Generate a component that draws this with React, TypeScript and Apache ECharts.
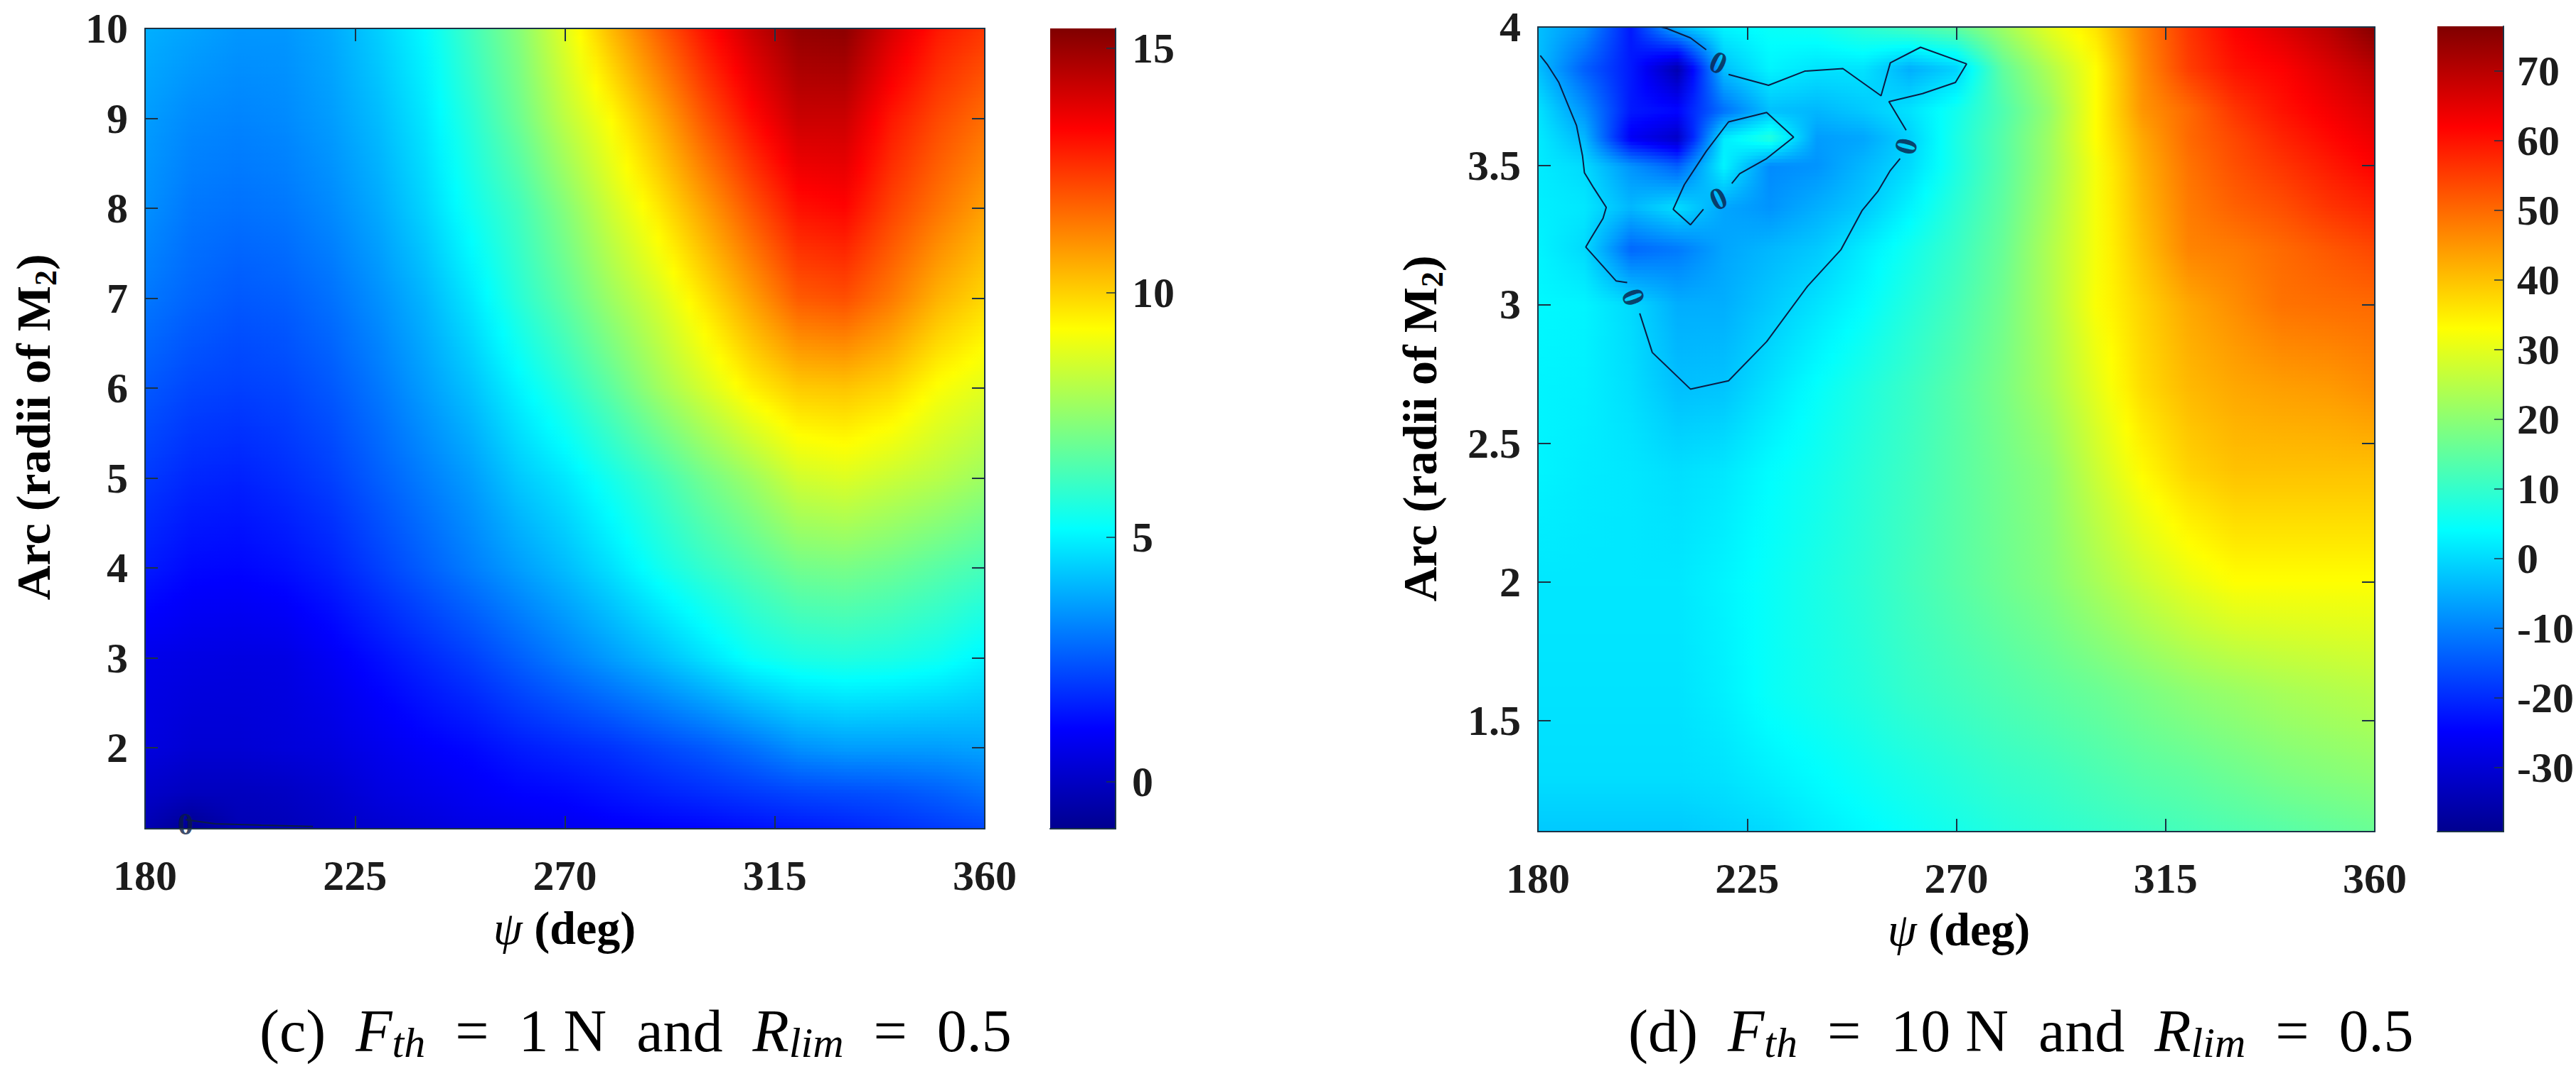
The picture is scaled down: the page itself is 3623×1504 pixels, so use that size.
import React, { useEffect, useRef } from "react";
import * as echarts from "echarts";

const FONT = "'Liberation Serif', 'Times New Roman', serif";
const LINE = "#1b3346";

// shared column positions (psi, deg)
const psi = [180, 190, 200, 210, 220, 230, 240, 250, 260, 270, 280, 290, 300, 310, 320, 330, 340, 350, 360];

// panel (c)
const arcC = [1.1, 1.5, 2, 3, 4, 5, 6, 7, 8, 9, 10];
const heatC = [
  [-0.3, -0.96, -0.3, -0.2, 0, 0.2, 0.4, 0.6, 0.7, 0.8, 0.95, 1.05, 1.15, 1.3, 1.45, 1.6, 1.8, 2.0, 2.2],
  [0.1, -0.1, -0.1, 0, 0.2, 0.5, 0.7, 0.9, 1.1, 1.2, 1.4, 1.6, 1.8, 2.0, 2.2, 2.3, 2.4, 2.6, 2.9],
  [0.5, 0.3, 0.3, 0.4, 0.5, 0.75, 1.0, 1.2, 1.5, 1.7, 1.9, 2.2, 2.5, 2.9, 3.4, 3.6, 3.6, 3.6, 3.7],
  [0.7, 0.6, 0.55, 0.6, 0.9, 1.3, 1.7, 2.1, 2.6, 3.1, 3.6, 4.1, 4.7, 5.3, 5.6, 5.7, 5.6, 5.4, 5.0],
  [1.5, 1.2, 1.15, 1.3, 1.6, 2.1, 2.6, 3.1, 3.6, 4.1, 4.7, 5.4, 6.0, 6.5, 7.0, 7.1, 6.9, 6.6, 6.3],
  [2.0, 1.7, 1.6, 1.8, 2.1, 2.6, 3.1, 3.6, 4.3, 4.8, 5.5, 6.2, 7.0, 7.7, 8.5, 8.7, 8.4, 8.1, 7.7],
  [2.5, 2.2, 2.1, 2.2, 2.5, 3.0, 3.6, 4.2, 5.0, 5.8, 6.7, 7.7, 8.6, 9.5, 10.1, 10.2, 9.9, 9.2, 8.8],
  [3.0, 2.7, 2.5, 2.6, 2.9, 3.4, 4.0, 4.8, 5.8, 6.7, 7.7, 8.6, 9.7, 10.8, 11.9, 12.1, 11.4, 10.5, 9.9],
  [3.4, 3.0, 2.9, 3.0, 3.3, 3.8, 4.5, 5.4, 6.2, 7.3, 8.5, 9.6, 10.8, 12.0, 13.1, 13.3, 12.3, 11.5, 10.8],
  [3.6, 3.3, 3.2, 3.3, 3.6, 4.1, 4.8, 5.8, 6.9, 8.2, 9.3, 10.6, 12.0, 13.2, 14.2, 14.2, 13.0, 12.2, 11.6],
  [3.9, 3.7, 3.5, 3.5, 3.8, 4.4, 5.1, 6.2, 7.3, 8.8, 10.4, 11.8, 13.1, 14.2, 15.1, 15.2, 14.0, 13.0, 12.5],
];
const rangeC = [-0.96, 15.4];
const xTicks = [180, 225, 270, 315, 360];
const yTicksC = [2, 3, 4, 5, 6, 7, 8, 9, 10];
const barTicksC = [0, 5, 10, 15];
const contourC = [[[188.7, 1.2], [195, 1.155], [205, 1.14], [216, 1.125]]];
const labelsC = [[188.7, 1.15, 0]];

// panel (d)
const arcD = [1.1, 1.3, 1.6, 2, 2.4, 2.7, 3.0, 3.2, 3.35, 3.5, 3.6, 3.7, 3.85, 4];
const heatD = [
  [-2, -2, -2, -2, -1, 0, 2, 3.5, 5, 6.5, 8, 9, 10, 11, 12, 13, 14, 15, 16],
  [0.5, 0.5, 0.5, 0.5, 1, 2.5, 4, 5.5, 7, 8.5, 10, 11, 12.5, 14, 15, 16.5, 18, 19, 20],
  [1, 1, 1, 1, 2.5, 5, 6.5, 8, 10, 11.5, 13, 14.5, 16, 18, 20, 21.5, 23, 24, 25],
  [1.5, 1.5, 1.5, 1.5, 3, 5, 7, 9, 11.5, 14, 16.5, 19, 23, 27, 30.5, 33, 33, 33, 33],
  [3, 2, 1.5, 0.5, 1.5, 4, 6, 8.5, 11, 14, 17, 20, 27, 33.5, 38, 40, 40, 40, 40],
  [3, 2.5, 0.5, -3, -2.5, 1, 4.5, 7.5, 10.5, 14, 18, 23, 30, 37, 41, 43, 44, 44.5, 46],
  [3.5, 3, 0, -5, -5, -2, 1, 4, 8, 12, 17, 24, 32.5, 38, 43, 46, 49, 49.5, 50],
  [3, 0, -13, -11, -6, -4, -2, 2, 6, 10.5, 16, 24, 32, 40, 47, 48, 50, 52, 54],
  [2.5, 1.5, -4, 0.5, -6, -8, -5, -2, 3, 9, 15, 23, 32, 41, 48, 51, 53, 56, 58],
  [2, 0, -8, -14, 3, -9, -8, -4, 0, 7, 14, 22, 32, 42, 49, 53, 56, 59, 62],
  [2, -4, -26, -32, 2, 8, -7, -6, -1, 7, 14, 22, 33, 43, 50, 54, 58, 61, 64],
  [1, -8, -22, -24, -12, -3, -4, -2, 1, 6, 13, 21, 33, 45, 50, 56, 60, 63, 66],
  [-3, -14, -22, -35, -3, 3, 1, 1, -5, -1, 15, 24, 33, 46, 55, 60, 62, 66, 70],
  [-3, -8, -22, -4, 3, 5, 6, 9, 12, 15, 22, 30, 36, 47, 56, 62, 66, 70, 76],
];
const rangeD = [-39.2, 76.4];
const yTicksD = [1.5, 2, 2.5, 3, 3.5, 4];
const barTicksD = [-30, -20, -10, 0, 10, 20, 30, 40, 50, 60, 70];
const contourD = [
  [[180.5, 3.897], [182.1, 3.863], [184.5, 3.8], [186.5, 3.718], [188.3, 3.645], [189.6, 3.535], [190, 3.475], [192, 3.42], [194.7, 3.35], [194, 3.31], [191.3, 3.236], [190.3, 3.207], [196.8, 3.085], [199.2, 3.079]],
  [[201.9, 2.968], [204.6, 2.827], [212.8, 2.695], [221, 2.725], [229.2, 2.866], [238, 3.066], [245.2, 3.198], [249.7, 3.338], [253.1, 3.407], [255.8, 3.483], [257.9, 3.526]],
  [[259.2, 3.628], [255.5, 3.731], [262.7, 3.76], [269.8, 3.8], [272.2, 3.867], [262.3, 3.927], [255.8, 3.871], [253.8, 3.752], [245.6, 3.85], [237.4, 3.841], [229.6, 3.79], [221, 3.829]],
  [[216.2, 3.918], [212.8, 3.961], [207.7, 3.995], [206.5, 4]],
  [[221.7, 3.436], [223.4, 3.471], [229.2, 3.526], [235, 3.603], [229.2, 3.692], [221, 3.658], [216.2, 3.552], [211.5, 3.432], [209.1, 3.343], [212.8, 3.287], [215.6, 3.343]],
];
const labelsD = [[218.8, 3.871, -25], [218.8, 3.381, 25], [259.2, 3.57, 75], [200.5, 3.026, -70]];

const JET: [number, number[]][] = [
  [0, [0, 0, 143]],
  [0.125, [0, 0, 255]],
  [0.375, [0, 255, 255]],
  [0.625, [255, 255, 0]],
  [0.875, [255, 0, 0]],
  [1, [128, 0, 0]],
];
function jet(t: number) {
  const u = Math.max(0, Math.min(1, t));
  for (let i = 1; i < JET.length; i++) {
    if (u <= JET[i][0]) {
      const [a, ca] = JET[i - 1];
      const [b, cb] = JET[i];
      const f = (u - a) / (b - a);
      return `rgb(${ca.map((c, k) => Math.round(c + (cb[k] - c) * f)).join(",")})`;
    }
  }
  return "rgb(128,0,0)";
}

// Shaded surface: every table row is drawn through the axes, MATLAB "shading interp" style.
function surfaceSeries(xIndex: number, yIndex: number, arcs: number[], table: number[][], range: number[]) {
  const color = (v: number) => jet((v - range[0]) / (range[1] - range[0]));
  return {
    type: "custom",
    xAxisIndex: xIndex,
    yAxisIndex: yIndex,
    silent: true,
    clip: true,
    z: 1,
    encode: { x: 0, y: 1 },
    data: arcs.slice(0, -1).map((a, i) => [psi[0], a, i]),
    renderItem: (_p: any, api: any) => {
      const r = api.value(2);
      const [x0, yBottom] = api.coord([psi[0], arcs[r]]);
      const [x1, yTop] = api.coord([psi[psi.length - 1], arcs[r + 1]]);
      const n = Math.max(2, Math.ceil((yBottom - yTop) / 5));
      const children: any[] = [];
      for (let k = 0; k < n; k++) {
        const s = (k + 0.5) / n;
        const vals = table[r].map((v, j) => v + (table[r + 1][j] - v) * s);
        const stops: any[] = [];
        for (let j = 0; j < vals.length - 1; j++) {
          for (let q = 0; q < 3; q++) {
            const f = q / 3;
            stops.push({ offset: (j + f) / (vals.length - 1), color: color(vals[j] + (vals[j + 1] - vals[j]) * f) });
          }
        }
        stops.push({ offset: 1, color: color(vals[vals.length - 1]) });
        const h = (yBottom - yTop) / n;
        children.push({
          type: "rect",
          shape: { x: x0, y: yBottom - (k + 1) * h - 0.4, width: x1 - x0, height: h + 0.8 },
          style: { fill: new echarts.graphic.LinearGradient(0, 0, 1, 0, stops) },
        });
      }
      return { type: "group", children };
    },
  };
}

function colorbarSeries(xIndex: number, yIndex: number, range: number[]) {
  return {
    type: "custom",
    xAxisIndex: xIndex,
    yAxisIndex: yIndex,
    silent: true,
    z: 1,
    encode: { x: 0, y: 1 },
    data: [[0, range[0]]],
    renderItem: (_p: any, api: any) => {
      const [x0, y0] = api.coord([0, range[0]]);
      const [x1, y1] = api.coord([1, range[1]]);
      return {
        type: "rect",
        shape: { x: x0, y: y1, width: x1 - x0, height: y0 - y1 },
        style: {
          fill: new echarts.graphic.LinearGradient(0, 1, 0, 0, JET.map(([offset, c]) => ({ offset, color: `rgb(${c.join(",")})` }))),
        },
      };
    },
  };
}

const tickStyle = { lineStyle: { color: LINE, width: 2 }, inside: true, length: 18 };
const lineStyle = { show: true, onZero: false, lineStyle: { color: LINE, width: 2 } };
const labelStyle = { color: "#1c1c1c", fontFamily: FONT, fontWeight: "bold" as const, fontSize: 60 };

function panelAxes(grid: number, yMin: number, yMax: number, yTicks: number[], margin: number) {
  const xBase = { type: "value", z: 5, gridIndex: grid, min: 180, max: 360, interval: 45, splitLine: { show: false }, axisLine: lineStyle };
  const yBase = { type: "value", z: 5, gridIndex: grid, min: yMin, max: yMax, splitLine: { show: false }, axisLine: lineStyle };
  return {
    x: [
      {
        ...xBase,
        position: "bottom",
        axisTick: { show: true, ...tickStyle },
        axisLabel: { ...labelStyle, margin, formatter: (v: number) => String(v), customValues: xTicks },
      },
      { ...xBase, position: "top", axisTick: { show: true, ...tickStyle }, axisLabel: { show: false } },
    ],
    y: [
      {
        ...yBase,
        position: "left",
        axisTick: { show: true, ...tickStyle, customValues: yTicks },
        axisLabel: { ...labelStyle, margin: 24, formatter: (v: number) => String(v), customValues: yTicks },
      },
      {
        ...yBase,
        position: "right",
        axisTick: { show: true, ...tickStyle, customValues: yTicks },
        axisLabel: { show: false },
      },
    ],
  };
}

function barAxes(grid: number, range: number[], ticks: number[], margin: number) {
  return {
    x: { type: "value", z: 5, gridIndex: grid, min: 0, max: 1, axisLine: lineStyle, axisTick: { show: false }, axisLabel: { show: false }, splitLine: { show: false } },
    y: {
      type: "value",
      z: 5,
      gridIndex: grid,
      min: range[0],
      max: range[1],
      position: "right",
      splitLine: { show: false },
      axisLine: lineStyle,
      axisTick: { show: true, inside: true, length: 13, lineStyle: { color: LINE, width: 1.5 }, customValues: ticks },
      axisLabel: { ...labelStyle, margin, formatter: (v: number) => String(v), customValues: ticks },
    },
  };
}

function contourSeries(xIndex: number, yIndex: number, paths: number[][][], labels: number[][]) {
  const lines = paths.map((p) => ({
    type: "line",
    xAxisIndex: xIndex,
    yAxisIndex: yIndex,
    data: p,
    showSymbol: false,
    silent: true,
    z: 3,
    lineStyle: { color: "#0b1c44", width: 2 },
  }));
  const marks = {
    type: "scatter",
    xAxisIndex: xIndex,
    yAxisIndex: yIndex,
    symbolSize: 1,
    silent: true,
    z: 4,
    itemStyle: { color: "rgba(0,0,0,0)" },
    data: labels.map(([x, y, rot]) => ({
      value: [x, y],
      label: {
        show: true,
        position: "inside",
        formatter: "0",
        rotate: rot,
        color: "#0b1c44",
        fontFamily: FONT,
        fontWeight: "bold",
        fontSize: 44,
      },
    })),
  };
  return [...lines, marks];
}

function yName(x: number, y: number) {
  return {
    type: "text",
    x,
    y,
    rotation: Math.PI / 2,
    style: {
      text: "{m|Arc (radii of M}{s|2}{m|)}",
      align: "center",
      verticalAlign: "middle",
      rich: {
        m: { fontFamily: FONT, fontWeight: "bold", fontSize: 68, color: "#1c1c1c" },
        s: { fontFamily: FONT, fontWeight: "bold", fontSize: 44, color: "#1c1c1c", verticalAlign: "bottom", padding: [34, 0, 0, 0] },
      },
    },
  };
}

function xName(x: number, y: number) {
  return {
    type: "text",
    x,
    y,
    style: {
      text: "{g|ψ}{m|\u00a0(deg)}",
      align: "center",
      verticalAlign: "middle",
      rich: {
        g: { fontFamily: FONT, fontStyle: "italic", fontSize: 66, color: "#1c1c1c" },
        m: { fontFamily: FONT, fontWeight: "bold", fontSize: 66, color: "#1c1c1c" },
      },
    },
  };
}

function caption(x: number, y: number, tag: string, force: string) {
  const base = { fontFamily: FONT, fontSize: 84, color: "#1c1c1c" };
  const sub = { fontFamily: FONT, fontSize: 60, fontStyle: "italic", color: "#1c1c1c", verticalAlign: "bottom", padding: [34, 0, 0, 0] };
  const gap = "\u00a0\u00a0";
  return {
    type: "text",
    x,
    y,
    style: {
      text: `{n|(${tag})${gap}}{i|F}{s|th}{n|${gap}=${gap}${force}\u00a0N${gap}and${gap}}{i|R}{s|lim}{n|${gap}=${gap}0.5}`,
      align: "left",
      verticalAlign: "middle",
      rich: { n: base, i: { ...base, fontStyle: "italic" }, s: sub },
    },
  };
}

export default function App() {
  const ref = useRef<HTMLDivElement>(null);
  useEffect(() => {
    if (!ref.current) return;
    const chart = echarts.init(ref.current, undefined, { renderer: "svg", width: 3623, height: 1504 });
    const c = panelAxes(0, 1.1, 10, yTicksC, 36);
    const d = panelAxes(1, 1.1, 4, yTicksD, 36);
    const bc = barAxes(2, rangeC, barTicksC, 23);
    const bd = barAxes(3, rangeD, barTicksD, 19);
    chart.setOption({
      animation: false,
      backgroundColor: "#ffffff",
      grid: [
        { left: 204, top: 40, width: 1181, height: 1126 },
        { left: 2163, top: 38, width: 1177, height: 1132 },
        { left: 1477, top: 40, width: 92, height: 1126 },
        { left: 3428, top: 37, width: 93, height: 1133 },
      ],
      xAxis: [...c.x, ...d.x, bc.x, bd.x],
      yAxis: [...c.y, ...d.y, bc.y, bd.y],
      series: [
        surfaceSeries(0, 0, arcC, heatC, rangeC),
        surfaceSeries(2, 2, arcD, heatD, rangeD),
        colorbarSeries(4, 4, rangeC),
        colorbarSeries(5, 5, rangeD),
        ...contourSeries(0, 0, contourC, labelsC),
        ...contourSeries(2, 2, contourD, labelsD),
      ],
      graphic: [
        yName(47, 601),
        yName(1997, 603),
        xName(794, 1305),
        xName(2755, 1307),
        caption(365, 1450, "c", "1"),
        caption(2290, 1450, "d", "10"),
      ],
    });
    return () => chart.dispose();
  }, []);
  return <div ref={ref} style={{ position: "fixed", left: 0, top: 0, width: 3623, height: 1504 }} />;
}
